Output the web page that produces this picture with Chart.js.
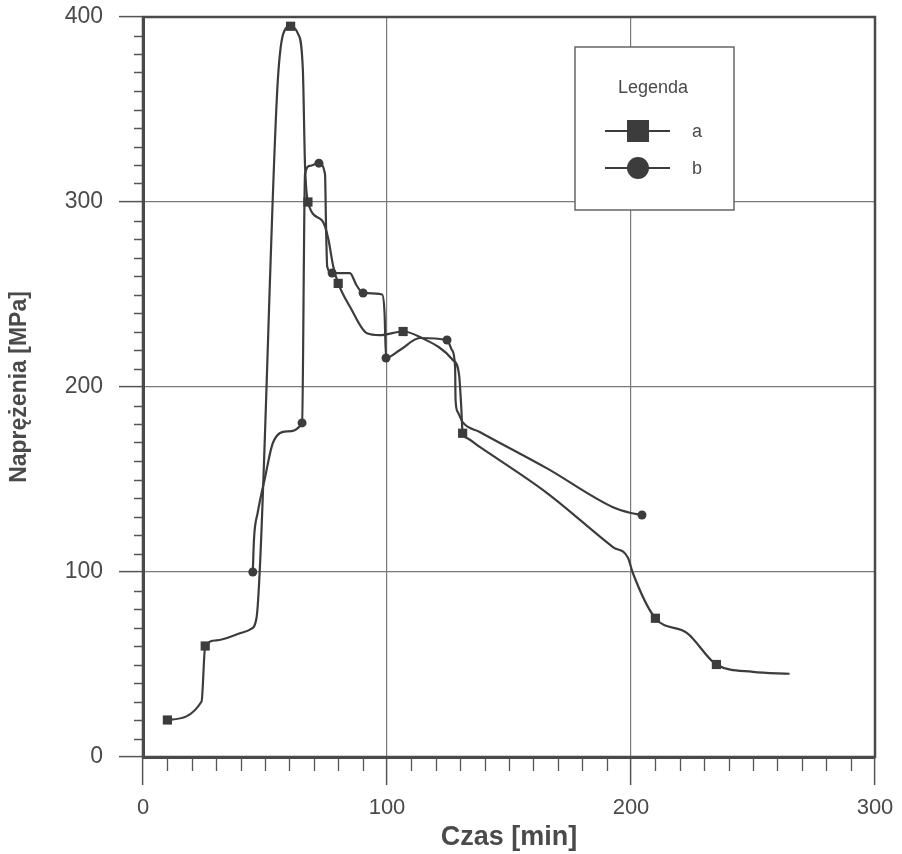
<!DOCTYPE html>
<html>
<head>
<meta charset="utf-8">
<script src="https://cdn.jsdelivr.net/npm/chart.js@4"></script>
<style>
  html, body { margin: 0; padding: 0; background: #fff; }
  #wrap { width: 902px; height: 854px; }
</style>
</head>
<body>
<div id="wrap"><canvas id="myChart"></canvas></div>
<script>
const xTicks = [0, 100, 200, 300];
const yTicks = [0, 100, 200, 300, 400];

// seria a (kwadraty)
const xA = [10, 24, 25.5, 30, 40, 44, 46.5, 48, 55, 57.5, 60.5, 63.5, 65.5, 66.4, 67.6,
  73.4, 75.8, 78, 80, 85, 91.8, 97, 106.6, 113.5, 127, 129.5, 130.4, 131,
  132.4, 138, 165.6, 192.6, 198.8, 200.6, 210, 223, 235, 250, 265];
const yA = [20, 30, 60, 63, 67, 69, 75, 105, 360, 391, 395, 391, 372, 320, 300,
  290, 281, 265, 256, 243, 229, 228, 230, 227, 214.6, 207, 190, 175,
  172.6, 167.6, 142.7, 113.5, 107.6, 100, 75, 67, 50, 46, 45];
const markA = [0, 2, 10, 14, 18, 22, 27, 34, 36];

// seria b (kółka)
const xB = [45, 45.5, 47, 50, 53.3, 59, 65.2, 66.4, 68.4, 72.1, 74.6, 75, 75.5, 77.5,
  84.8, 87.5, 90.2, 98, 99, 99.6, 105.3, 113.5, 124.6, 126.6, 127.9, 128.1, 129, 131,
  138, 165.6, 192.6, 199.6, 204.5];
const yB = [100, 118, 132, 151, 170, 176, 180.6, 315, 319.5, 321, 315, 288, 265, 261.6,
  261.6, 255, 250.8, 250, 240, 215.7, 220, 226.5, 225.4, 220, 211, 193, 186.5, 181,
  175.7, 156, 135, 132, 130.8];
const markB = [0, 6, 9, 13, 16, 19, 22, 32];

const lineColor = "#3c3c3c";
const textColor = "#4a4a4a";
const fontFamily = "'Liberation Sans', Arial, sans-serif";

const extras = {
  id: "extras",
  afterDraw(chart) {
    const { ctx, chartArea: a } = chart;
    const x = chart.scales.x;
    const y = chart.scales.y;
    ctx.save();
    // drobne podziałki
    ctx.strokeStyle = "#555";
    ctx.lineWidth = 1.3;
    ctx.beginPath();
    for (let v = 10; v < 300; v += 10) {
      if (v % 100 === 0) continue;
      const px = Math.round(x.getPixelForValue(v)) + 0.5;
      ctx.moveTo(px, a.bottom);
      ctx.lineTo(px, a.bottom + 14);
    }
    for (let v = 10; v < 400; v += 10) {
      if (v % 100 === 0) continue;
      const py = Math.round(y.getPixelForValue(v)) + 0.5;
      ctx.moveTo(a.left - 9, py);
      ctx.lineTo(a.left, py);
    }
    ctx.stroke();

    // ramka
    ctx.lineWidth = 2.5;
    ctx.strokeStyle = "#4a4a4a";
    ctx.strokeRect(a.left, a.top, a.right - a.left, a.bottom - a.top);

    // legenda
    const bx = 575, by = 47, bw = 159, bh = 163;
    ctx.fillStyle = "#fff";
    ctx.fillRect(bx, by, bw, bh);
    ctx.lineWidth = 1.5;
    ctx.strokeStyle = "#666";
    ctx.strokeRect(bx, by, bw, bh);
    ctx.fillStyle = textColor;
    ctx.font = "18px " + fontFamily;
    ctx.textAlign = "center";
    ctx.textBaseline = "middle";
    ctx.fillText("Legenda", 653, 88);
    ctx.strokeStyle = lineColor;
    ctx.lineWidth = 2;
    ctx.beginPath();
    ctx.moveTo(605, 131); ctx.lineTo(670, 131);
    ctx.moveTo(605, 168); ctx.lineTo(670, 168);
    ctx.stroke();
    ctx.fillStyle = lineColor;
    ctx.fillRect(627, 120, 22, 22);
    ctx.beginPath();
    ctx.arc(638, 168, 11, 0, Math.PI * 2);
    ctx.fill();
    ctx.fillStyle = textColor;
    ctx.textAlign = "left";
    ctx.fillText("a", 692, 132);
    ctx.fillText("b", 692, 169);
    ctx.restore();
  },
};

const ctx = document.getElementById("myChart").getContext("2d");
new Chart(ctx, {
  type: "scatter",
  data: {
    datasets: [
      {
        label: "a",
        data: xA.map((v, i) => ({ x: v, y: yA[i] })),
        showLine: true,
        borderColor: lineColor,
        backgroundColor: lineColor,
        borderWidth: 2.2,
        cubicInterpolationMode: "monotone",
        pointStyle: "rect",
        pointRadius: (c) => (markA.includes(c.dataIndex) ? 6.5 : 0),
        pointBorderWidth: 0,
      },
      {
        label: "b",
        data: xB.map((v, i) => ({ x: v, y: yB[i] })),
        showLine: true,
        borderColor: lineColor,
        backgroundColor: lineColor,
        borderWidth: 2.2,
        cubicInterpolationMode: "monotone",
        pointStyle: "circle",
        pointRadius: (c) => (markB.includes(c.dataIndex) ? 4.5 : 0),
        pointBorderWidth: 0,
      },
    ],
  },
  options: {
    responsive: true,
    maintainAspectRatio: false,
    animation: false,
    layout: { padding: { left: 0, right: 27, top: 17, bottom: 0 } },
    plugins: {
      legend: { display: false },
      tooltip: { enabled: false },
    },
    scales: {
      x: {
        type: "linear",
        min: 0,
        max: 300,
        afterBuildTicks: (s) => { s.ticks = xTicks.map((v) => ({ value: v })); },
        afterFit: (s) => {
          s.height = 97;
          s.paddingLeft = 0;
          s.paddingRight = 0;
        },
        grid: {
          color: "#7a7a7a",
          lineWidth: 1.2,
          tickLength: 28,
          tickColor: "#555",
          tickWidth: 1.5,
        },
        border: { color: "#4a4a4a", width: 3 },
        ticks: {
          padding: 10,
          maxRotation: 0,
          color: textColor,
          font: { family: fontFamily, size: 22 },
        },
        title: {
          display: true,
          text: "Czas [min]",
          color: textColor,
          padding: { top: 0, bottom: 0 },
          font: { family: fontFamily, size: 27, weight: "bold" },
        },
      },
      y: {
        type: "linear",
        min: 0,
        max: 400,
        afterBuildTicks: (s) => { s.ticks = yTicks.map((v) => ({ value: v })); },
        afterFit: (s) => {
          s.width = 143;
          s.paddingTop = 0;
          s.paddingBottom = 0;
        },
        grid: {
          color: "#7a7a7a",
          lineWidth: 1.2,
          tickLength: 24,
          tickColor: "#555",
          tickWidth: 1.5,
        },
        border: { color: "#4a4a4a", width: 3 },
        ticks: {
          padding: 16,
          color: textColor,
          font: { family: fontFamily, size: 23 },
        },
        title: {
          display: true,
          text: "Naprężenia [MPa]",
          color: textColor,
          padding: { top: 6, bottom: 0 },
          font: { family: fontFamily, size: 23, weight: "bold" },
        },
      },
    },
  },
  plugins: [extras],
});
</script>
</body>
</html>
